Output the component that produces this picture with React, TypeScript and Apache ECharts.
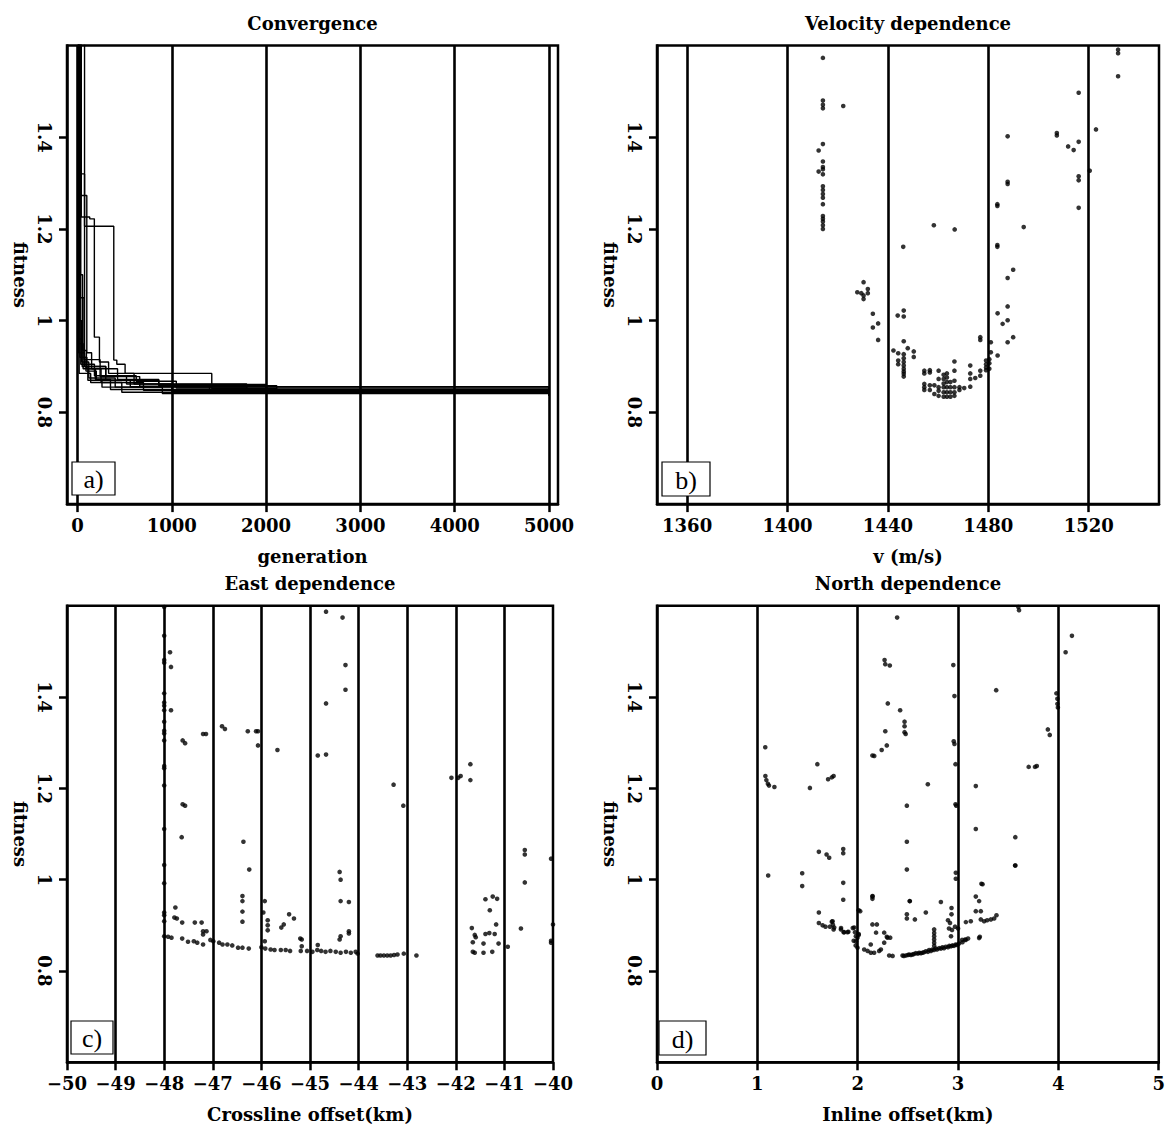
import React, { useEffect, useRef } from "react";
import * as echarts from "echarts";

// ---------- tick values ----------
const genTicks = [0, 1000, 2000, 3000, 4000, 5000];
const velTicks = [1360, 1400, 1440, 1480, 1520];
const eastTicks = [-50, -49, -48, -47, -46, -45, -44, -43, -42, -41, -40];
const northTicks = [0, 1, 2, 3, 4, 5];
const fitTicks = [0.8, 1, 1.2, 1.4];

// ---------- vertical reference lines ----------
const genLines = [0, 1000, 2000, 3000, 4000, 5000];
const velLines = [1360, 1400, 1440, 1480, 1520];
const eastLines = [-49, -48, -47, -46, -45, -44, -43, -42, -41];
const northLines = [1, 2, 3, 4];

// ---------- panel a: convergence runs [generation, fitness] ----------
const run01 = [[0, 2.5], [75, 1.206], [385, 0.914], [417, 0.905], [505, 0.885], [1424, 0.852], [2105, 0.843], [5000, 0.843]];
const run02 = [[0, 2.5], [40, 1.226], [130, 1.222], [179, 0.964], [233, 0.91], [330, 0.885], [600, 0.862], [1794, 0.848], [5000, 0.841]];
const run03 = [[0, 2.5], [40, 1.273], [99, 0.93], [150, 0.895], [425, 0.872], [862, 0.861], [2000, 0.844], [5000, 0.838]];
const run04 = [[0, 2.5], [8, 1.32], [75, 0.92], [100, 0.9], [300, 0.88], [623, 0.868], [1048, 0.853], [5000, 0.839]];
const run05 = [[0, 2.5], [15, 1.0], [45, 0.91], [120, 0.875], [400, 0.855], [1795, 0.846], [5000, 0.837]];
const run06 = [[0, 2.5], [10, 0.95], [60, 0.895], [250, 0.865], [700, 0.848], [5000, 0.836]];
const run07 = [[0, 2.5], [25, 0.92], [90, 0.89], [200, 0.87], [862, 0.858], [2113, 0.845], [5000, 0.838]];
const run08 = [[0, 2.5], [35, 0.905], [180, 0.88], [520, 0.862], [1000, 0.846], [4555, 0.842], [5000, 0.837]];
const run09 = [[0, 2.5], [12, 0.93], [75, 0.9], [300, 0.87], [560, 0.856], [5000, 0.839]];
const run10 = [[0, 2.5], [18, 0.885], [140, 0.865], [470, 0.844], [5000, 0.836]];
const run11 = [[0, 2.5], [8, 0.96], [50, 0.9], [110, 0.87], [260, 0.855], [900, 0.841], [5000, 0.838]];
const run12 = [[0, 2.5], [22, 1.1], [55, 0.935], [95, 0.895], [190, 0.872], [350, 0.85], [5000, 0.837]];
const run13 = [[0, 2.5], [28, 1.05], [70, 0.915], [240, 0.878], [660, 0.857], [1400, 0.843], [5000, 0.838]];
const runs = [run01, run02, run03, run04, run05, run06, run07, run08, run09, run10, run11, run12, run13];

// ---------- panel b: velocity [v (m/s), fitness] ----------
const velocityPoints = [
  [1414.1, 1.573], [1414.1, 1.48], [1414.1, 1.471], [1414.1, 1.463], [1422.2, 1.468], [1414.1, 1.385],
  [1412.4, 1.371], [1412.4, 1.325], [1414.1, 1.347], [1414.1, 1.335], [1414.1, 1.33], [1414.1, 1.319],
  [1414.1, 1.293], [1414.1, 1.285], [1414.1, 1.276], [1414.1, 1.268], [1414.1, 1.254], [1414.1, 1.228],
  [1414.1, 1.222], [1414.1, 1.216], [1414.1, 1.208], [1414.1, 1.2], [1458.3, 1.208], [1466.6, 1.199],
  [1446.1, 1.161], [1483.6, 1.254], [1483.6, 1.25], [1483.6, 1.165], [1483.6, 1.161], [1487.7, 1.402],
  [1487.7, 1.303], [1487.7, 1.298], [1489.9, 1.111], [1494.1, 1.204], [1507.3, 1.409], [1507.3, 1.404],
  [1511.8, 1.38], [1514.0, 1.372], [1516.0, 1.39], [1516.0, 1.497], [1516.0, 1.315], [1516.0, 1.306],
  [1516.0, 1.246], [1520.4, 1.327], [1522.9, 1.417], [1531.7, 1.591], [1531.7, 1.583], [1531.7, 1.533],
  [1430.3, 1.084], [1427.8, 1.062], [1429.4, 1.06], [1432.0, 1.06], [1432.0, 1.069], [1430.3, 1.055],
  [1430.3, 1.047], [1434.0, 1.015], [1434.0, 0.985], [1436.1, 0.994], [1436.1, 0.958], [1443.9, 1.011],
  [1446.3, 1.022], [1446.3, 1.009], [1442.2, 0.935], [1444.1, 0.929], [1444.1, 0.913], [1444.1, 0.905],
  [1446.3, 0.955], [1446.3, 0.927], [1446.3, 0.918], [1446.3, 0.91], [1446.3, 0.902], [1446.3, 0.895],
  [1446.3, 0.889], [1446.3, 0.884], [1446.3, 0.878], [1447.9, 0.94], [1450.3, 0.933], [1450.3, 0.921],
  [1454.5, 0.891], [1454.5, 0.885], [1454.5, 0.862], [1454.5, 0.855], [1454.5, 0.849], [1456.7, 0.892],
  [1456.7, 0.887], [1456.7, 0.859], [1456.7, 0.849], [1458.5, 0.859], [1458.5, 0.84],
  [1460.2, 0.891], [1460.2, 0.873], [1460.2, 0.855], [1460.2, 0.847], [1460.2, 0.836],
  [1462.2, 0.882], [1462.2, 0.873], [1462.2, 0.863], [1462.2, 0.855], [1462.2, 0.844], [1462.2, 0.834],
  [1463.5, 0.885], [1463.5, 0.876], [1463.5, 0.866], [1463.5, 0.855], [1463.5, 0.844], [1463.5, 0.834],
  [1464.9, 0.866], [1464.9, 0.855], [1464.9, 0.844], [1464.9, 0.834],
  [1466.5, 0.911], [1466.5, 0.891], [1466.5, 0.869], [1466.5, 0.855], [1466.5, 0.844], [1466.5, 0.836],
  [1468.5, 0.855], [1468.5, 0.849], [1470.4, 0.853],
  [1472.8, 0.902], [1472.8, 0.885], [1472.8, 0.873], [1472.8, 0.856], [1474.8, 0.875],
  [1476.8, 0.964], [1476.8, 0.958], [1476.8, 0.891], [1476.8, 0.88],
  [1479.1, 0.913], [1479.1, 0.905], [1479.1, 0.898], [1479.1, 0.892], [1480.4, 0.916], [1480.4, 0.907],
  [1480.4, 0.895], [1481.0, 0.953], [1481.0, 0.931], [1483.7, 0.924], [1483.7, 1.016], [1485.7, 0.993],
  [1487.7, 1.031], [1487.7, 1.001], [1487.7, 0.953], [1489.9, 0.964], [1487.7, 1.093]
];

// ---------- panel c: crossline offset [km, fitness] ----------
const eastPoints = [
  [-48, 1.597], [-48, 1.534], [-48, 1.481], [-48, 1.475], [-48, 1.408], [-48, 1.388], [-48, 1.381],
  [-48, 1.371], [-48, 1.346], [-48, 1.326], [-48, 1.32], [-48, 1.305], [-48, 1.249], [-48, 1.244],
  [-48, 1.206], [-48, 1.111], [-48, 1.032], [-48, 0.992],
  [-47.88, 1.498], [-47.86, 1.466], [-47.86, 1.371], [-47.62, 1.305], [-47.57, 1.299], [-47.62, 1.165],
  [-47.57, 1.162], [-47.64, 1.093], [-47.2, 1.319], [-47.14, 1.319], [-46.81, 1.336], [-46.75, 1.33],
  [-46.28, 1.325], [-46.11, 1.325], [-46.07, 1.325], [-46.07, 1.294], [-45.67, 1.284], [-44.84, 1.272],
  [-44.67, 1.274], [-44.67, 1.386], [-44.67, 1.587], [-44.33, 1.574], [-44.27, 1.47], [-44.27, 1.416],
  [-46.37, 1.083], [-46.25, 1.022], [-43.28, 1.208], [-43.08, 1.162], [-42.09, 1.223], [-41.95, 1.223],
  [-41.9, 1.227], [-41.7, 1.253], [-41.7, 1.218],
  [-41.39, 0.957], [-41.24, 0.963], [-41.15, 0.958], [-41.3, 0.933], [-41.67, 0.894], [-41.61, 0.879],
  [-41.59, 0.874], [-41.65, 0.863], [-41.65, 0.842], [-41.61, 0.84], [-41.43, 0.86], [-41.43, 0.84],
  [-41.39, 0.881], [-41.31, 0.883], [-41.2, 0.881], [-41.17, 0.902], [-41.25, 0.842], [-41.12, 0.86],
  [-40.93, 0.853], [-40.66, 0.893], [-40.58, 1.065], [-40.58, 1.055], [-40.58, 0.994], [-40.04, 1.046],
  [-40.04, 0.866], [-40.04, 0.862], [-40.0, 0.902],
  [-48, 0.928], [-48, 0.909], [-48, 0.922], [-47.77, 0.939], [-47.79, 0.917], [-47.74, 0.915],
  [-47.63, 0.906], [-47.37, 0.906], [-47.23, 0.906], [-47.2, 0.887], [-47.2, 0.88], [-47.13, 0.887],
  [-46.39, 0.964], [-46.39, 0.953], [-46.39, 0.93], [-46.39, 0.908], [-45.93, 0.953], [-45.96, 0.928],
  [-45.87, 0.911], [-45.87, 0.9], [-45.87, 0.889], [-45.93, 0.865], [-45.59, 0.895], [-45.54, 0.902],
  [-45.43, 0.924], [-45.33, 0.915], [-45.17, 0.869], [-45.17, 0.854], [-44.37, 1.0], [-44.37, 0.953],
  [-44.2, 0.951], [-44.39, 0.869], [-44.37, 0.876], [-44.2, 0.887], [-44.2, 0.882], [-44.39, 1.017],
  [-45.2, 0.871], [-44.84, 0.857],
  [-48, 0.876], [-47.92, 0.875], [-47.85, 0.873], [-47.63, 0.871], [-47.51, 0.864], [-47.39, 0.865],
  [-47.32, 0.862], [-47.2, 0.858], [-47.05, 0.868], [-46.99, 0.865], [-46.87, 0.862], [-46.8, 0.858],
  [-46.7, 0.858], [-46.6, 0.856], [-46.48, 0.851], [-46.39, 0.851], [-46.26, 0.849], [-46.0, 0.852],
  [-45.92, 0.849], [-45.81, 0.847], [-45.73, 0.846], [-45.6, 0.846], [-45.5, 0.846], [-45.41, 0.844],
  [-45.19, 0.844], [-45.06, 0.844], [-44.95, 0.842], [-44.85, 0.846], [-44.77, 0.844], [-44.68, 0.842],
  [-44.58, 0.844], [-44.47, 0.842], [-44.37, 0.84], [-44.26, 0.842], [-44.16, 0.84], [-44.06, 0.842],
  [-44.02, 0.838], [-43.61, 0.834], [-43.55, 0.834], [-43.48, 0.834], [-43.41, 0.834], [-43.34, 0.834],
  [-43.27, 0.835], [-43.2, 0.836], [-43.07, 0.838], [-42.81, 0.834]
];

// ---------- panel d: inline offset [km, fitness] ----------
const northPoints = [
  [1.079, 1.29], [1.08, 1.227], [1.09, 1.218], [1.105, 1.21], [1.116, 1.206], [1.17, 1.203], [1.108, 1.009],
  [1.524, 1.201], [1.447, 1.014], [1.447, 0.986], [1.598, 1.253], [1.705, 1.22], [1.742, 1.224], [1.76, 1.227],
  [1.613, 1.061], [1.69, 1.055], [1.716, 1.048], [1.856, 1.067], [1.856, 1.058], [1.856, 0.993], [1.856, 0.956],
  [1.613, 0.928], [2.147, 0.963], [2.147, 0.958], [2.165, 1.271], [2.147, 1.272], [2.239, 1.284], [2.29, 1.294],
  [2.275, 1.325], [2.268, 1.481], [2.275, 1.472], [2.32, 1.469], [2.3, 1.386], [2.393, 1.574], [2.423, 1.371],
  [2.467, 1.346], [2.467, 1.336], [2.467, 1.323], [2.478, 1.319], [2.49, 1.162], [2.49, 1.083], [2.49, 1.022],
  [2.518, 0.953], [2.699, 1.209], [2.953, 1.47], [2.964, 1.402], [2.957, 1.303], [2.964, 1.297], [2.975, 1.253],
  [2.975, 1.165], [2.982, 1.162], [2.978, 1.015], [2.978, 1.002], [3.177, 1.205], [3.177, 1.111], [3.233, 0.991],
  [3.38, 1.415], [3.571, 1.093], [3.571, 1.031], [3.601, 1.597], [3.608, 1.59], [3.704, 1.247], [3.767, 1.247],
  [3.785, 1.249], [3.895, 1.329], [3.914, 1.317], [3.98, 1.408], [3.99, 1.396], [3.99, 1.385], [3.995, 1.377],
  [4.072, 1.498], [4.135, 1.534],
  [1.613, 0.905], [1.65, 0.9], [1.679, 0.897], [1.723, 0.897], [1.742, 0.908], [1.753, 0.901], [1.76, 0.891],
  [1.834, 0.894], [1.86, 0.885], [1.907, 0.886], [1.951, 0.894], [1.973, 0.885], [2.01, 0.881], [1.96, 0.866],
  [1.98, 0.856], [2.01, 0.879], [2.01, 0.933], [1.75, 0.909], [1.766, 0.895], [1.833, 0.891], [1.866, 0.885],
  [1.899, 0.885], [1.965, 0.895], [1.982, 0.876], [1.998, 0.873], [1.982, 0.865], [1.998, 0.851], [2.025, 0.931],
  [2.147, 0.902], [2.183, 0.884], [2.148, 0.964], [2.191, 0.902], [2.264, 0.884], [2.297, 0.873], [2.324, 0.873],
  [2.29, 0.875], [2.264, 0.862], [2.13, 0.858],
  [2.065, 0.847], [2.099, 0.844], [2.131, 0.84], [2.164, 0.84], [2.214, 0.844], [2.231, 0.847], [2.314, 0.834],
  [2.348, 0.833], [2.447, 0.834], [2.48, 0.834], [2.513, 0.836], [2.546, 0.836], [2.579, 0.839], [2.613, 0.84],
  [2.646, 0.84], [2.679, 0.843], [2.712, 0.846], [2.745, 0.847], [2.778, 0.849], [2.812, 0.85], [2.845, 0.852],
  [2.878, 0.853], [2.911, 0.855], [2.944, 0.856], [2.977, 0.858], [3.01, 0.86], [3.044, 0.863], [3.077, 0.868],
  [2.46, 0.833], [2.5, 0.835], [2.53, 0.835], [2.56, 0.837], [2.6, 0.838], [2.63, 0.839], [2.66, 0.841],
  [2.7, 0.842], [2.73, 0.844], [2.76, 0.846], [2.79, 0.847], [2.83, 0.849], [2.86, 0.85], [2.9, 0.852],
  [2.93, 0.854], [2.96, 0.855], [2.99, 0.857],
  [2.762, 0.891], [2.762, 0.883], [2.762, 0.876], [2.762, 0.869], [2.762, 0.862], [2.762, 0.855],
  [2.52, 0.953], [2.49, 0.924], [2.49, 0.915], [2.57, 0.913], [2.679, 0.928], [2.829, 0.951], [2.935, 0.938],
  [2.935, 0.924], [2.9, 0.911], [2.92, 0.905], [2.91, 0.893], [2.94, 0.89], [2.93, 0.876], [2.97, 0.897],
  [3.0, 0.893], [3.078, 0.907], [3.127, 0.909], [3.177, 0.963], [3.21, 0.953], [3.177, 0.931], [3.227, 0.931],
  [3.227, 0.913], [3.26, 0.909], [3.29, 0.911], [3.327, 0.913], [3.36, 0.915], [3.383, 0.922], [3.217, 0.875],
  [3.21, 0.872], [3.244, 0.99], [3.569, 1.031], [3.04, 0.868], [3.07, 0.869], [3.1, 0.871]
];

const titles = ["Convergence", "Velocity dependence", "East dependence", "North dependence"];
const xNames = ["generation", "v (m/s)", "Crossline offset(km)", "Inline offset(km)"];
const panelTags = ["a)", "b)", "c)", "d)"];

const FONT = "'DejaVu Serif', serif";
const GRIDS = [
  { left: 67, top: 45.5, width: 491, height: 458.6 },
  { left: 657, top: 45.5, width: 502, height: 458.6 },
  { left: 67, top: 605.7, width: 486, height: 456.6 },
  { left: 657, top: 605.7, width: 502, height: 456.6 },
];
const X_RANGES = [
  [-111, 5095],
  [1348, 1548],
  [-50, -40],
  [0, 5],
];
const X_TICKS = [genTicks, velTicks, eastTicks, northTicks];
const V_LINES = [genLines, velLines, eastLines, northLines];
const TAG_BOXES = [
  [72, 462, 43, 33],
  [662, 462, 48, 34],
  [71, 1021, 42, 33],
  [659, 1021, 47, 34],
];

const fmt = (v: number) => String(v).replace("-", "\u2212");

function buildOption() {
  const labelStyle = { color: "#000", fontFamily: FONT, fontWeight: "bold", fontSize: 18 };
  const xAxis = GRIDS.map((_, i) => ({
    gridIndex: i,
    type: "value",
    min: X_RANGES[i][0],
    max: X_RANGES[i][1],
    axisLine: { show: true, onZero: false, lineStyle: { color: "#000", width: 2.5 } },
    axisTick: { show: true, customValues: X_TICKS[i], length: 8, lineStyle: { color: "#000", width: 2.5 } },
    axisLabel: { ...labelStyle, customValues: X_TICKS[i], margin: 12, formatter: fmt },
    splitLine: { show: false },
    name: xNames[i],
    nameLocation: "middle",
    nameGap: 43,
    nameTextStyle: labelStyle,
  }));
  const yAxis = GRIDS.map((_, i) => ({
    gridIndex: i,
    type: "value",
    min: 0.6,
    max: 1.6,
    axisLine: { show: true, onZero: false, lineStyle: { color: "#000", width: 2.5 } },
    axisTick: { show: true, customValues: fitTicks, length: 8, lineStyle: { color: "#000", width: 2.5 } },
    axisLabel: { ...labelStyle, customValues: fitTicks, rotate: -90, margin: 14, formatter: (v: number) => String(v) },
    splitLine: { show: false },
    name: "fitness",
    nameLocation: "middle",
    nameRotate: -90,
    nameGap: 38,
    nameTextStyle: labelStyle,
  }));

  const markLineFor = (i: number) => ({
    silent: true,
    symbol: ["none", "none"],
    label: { show: false },
    lineStyle: { color: "#000", width: 2.6, type: "solid" },
    data: V_LINES[i].map((v) => ({ xAxis: v })),
  });

  const series: any[] = [];
  runs.forEach((run, k) => {
    series.push({
      type: "line",
      xAxisIndex: 0,
      yAxisIndex: 0,
      data: run,
      step: "end",
      symbol: "none",
      showSymbol: false,
      silent: true,
      clip: true,
      lineStyle: { color: "#000", width: 1.4 },
      ...(k === 0 ? { markLine: markLineFor(0) } : {}),
    });
  });
  const scatterData = [velocityPoints, eastPoints, northPoints];
  scatterData.forEach((d, j) => {
    const i = j + 1;
    series.push({
      type: "scatter",
      xAxisIndex: i,
      yAxisIndex: i,
      data: d,
      symbol: "circle",
      symbolSize: 4.6,
      silent: true,
      itemStyle: { color: "#000" },
      markLine: markLineFor(i),
    });
  });

  const graphic: any[] = [];
  GRIDS.forEach((g, i) => {
    graphic.push({
      type: "text",
      x: g.left + g.width / 2,
      y: g.top - 22,
      z: 100,
      style: {
        text: titles[i],
        font: `bold 18px ${FONT}`,
        fill: "#000",
        textAlign: "center",
        textVerticalAlign: "middle",
        verticalAlign: "middle",
      },
    });
    const [bx, by, bw, bh] = TAG_BOXES[i];
    graphic.push({
      type: "rect",
      z: 100,
      shape: { x: bx, y: by, width: bw, height: bh },
      style: { fill: "#fff", stroke: "#000", lineWidth: 1.2 },
    });
    graphic.push({
      type: "text",
      z: 101,
      x: bx + bw / 2,
      y: by + bh / 2 + 1,
      style: {
        text: panelTags[i],
        font: `26px 'Liberation Serif', serif`,
        fill: "#000",
        textAlign: "center",
        textVerticalAlign: "middle",
        verticalAlign: "middle",
      },
    });
  });

  return {
    animation: false,
    backgroundColor: "#fff",
    grid: GRIDS.map((g) => ({ ...g, show: true, borderColor: "#000", borderWidth: 2.5, containLabel: false })),
    xAxis,
    yAxis,
    series,
    graphic,
  };
}

export default function App() {
  const ref = useRef<HTMLDivElement>(null);
  useEffect(() => {
    if (!ref.current) return;
    const chart = echarts.init(ref.current, undefined, { renderer: "svg" });
    chart.setOption(buildOption() as any);
    return () => chart.dispose();
  }, []);
  return (
    <div
      ref={ref}
      style={{ position: "absolute", left: 0, top: 0, width: 1168, height: 1128, background: "#fff" }}
    />
  );
}
